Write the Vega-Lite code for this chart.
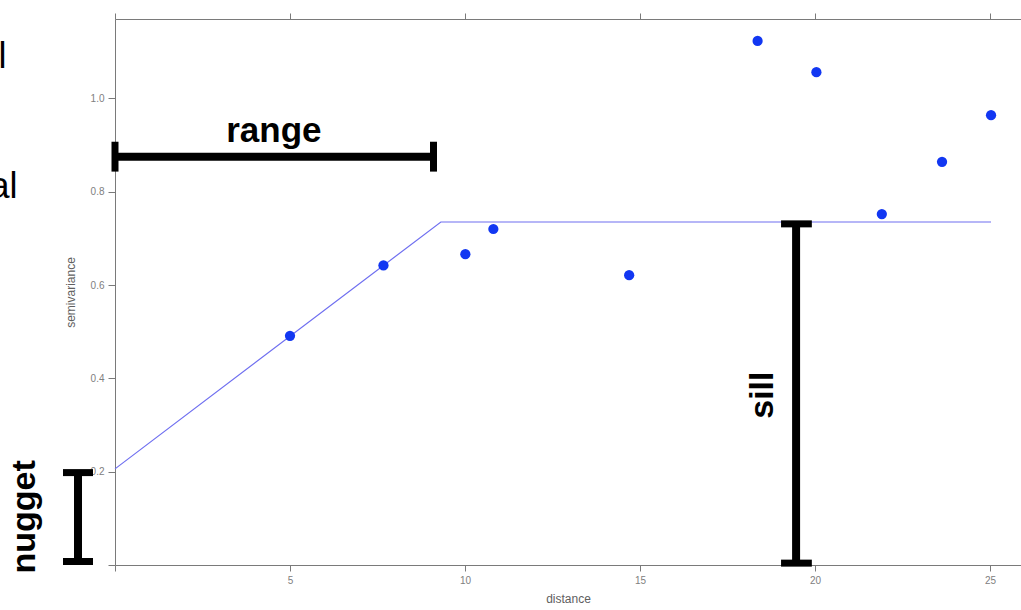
{
  "$schema": "https://vega.github.io/schema/vega-lite/v6.json",
  "autosize": {"type": "none"},
  "padding": {"left": 115, "top": 19, "right": 0, "bottom": 45},
  "width": 906,
  "height": 546,
  "background": "white",
  "config": {
    "view": {"stroke": null},
    "axis": {
      "grid": false,
      "domainColor": "#7a7a7a",
      "tickColor": "#7a7a7a",
      "labelColor": "#808080",
      "titleColor": "#606060",
      "labelFont": "Liberation Sans",
      "titleFont": "Liberation Sans",
      "labelFontSize": 10,
      "titleFontWeight": "normal"
    }
  },
  "datasets": {
    "points": [
      {"distance": 5.0, "gamma": 0.491},
      {"distance": 7.67, "gamma": 0.642},
      {"distance": 10.01, "gamma": 0.666},
      {"distance": 10.81, "gamma": 0.72},
      {"distance": 14.69, "gamma": 0.621},
      {"distance": 18.36, "gamma": 1.123},
      {"distance": 20.04, "gamma": 1.056},
      {"distance": 21.91, "gamma": 0.752},
      {"distance": 23.63, "gamma": 0.864},
      {"distance": 25.03, "gamma": 0.964}
    ],
    "model": [
      {"distance": 0, "gamma": 0.206},
      {"distance": 9.31, "gamma": 0.735},
      {"distance": 25.03, "gamma": 0.735}
    ],
    "bars": [
      {"name": "range", "x1": 0, "x2": 9.1, "y1": 0.875, "y2": 0.875},
      {"name": "sill", "x1": 19.46, "x2": 19.46, "y1": 0.731, "y2": 0.004},
      {"name": "nugget", "x1": -1.057, "x2": -1.057, "y1": 0.198, "y2": 0.0075}
    ],
    "caps": [
      {"name": "range L", "x1": 0, "x2": 0, "y1": 0.907, "y2": 0.843},
      {"name": "range R", "x1": 9.1, "x2": 9.1, "y1": 0.907, "y2": 0.843},
      {"name": "sill top", "x1": 19.03, "x2": 19.91, "y1": 0.731, "y2": 0.731},
      {"name": "sill bottom", "x1": 19.03, "x2": 19.91, "y1": 0.004, "y2": 0.004},
      {"name": "nugget top", "x1": -1.486, "x2": -0.629, "y1": 0.198, "y2": 0.198},
      {"name": "nugget bottom", "x1": -1.486, "x2": -0.629, "y1": 0.0075, "y2": 0.0075}
    ],
    "labelH": [
      {"label": "range", "x": 4.54, "y": 0.907}
    ],
    "labelV": [
      {"label": "sill", "x": 18.8, "y": 0.364},
      {"label": "nugget", "x": -2.29, "y": 0.103}
    ],
    "partial": [
      {"label": "l", "x": -3.1, "y": 1.065},
      {"label": "al", "x": -2.786, "y": 0.786}
    ]
  },
  "resolve": {"axis": {"x": "independent", "y": "independent"}},
  "layer": [
    {
      "data": {"name": "model"},
      "mark": {"type": "line", "color": "#6f6ff0", "strokeWidth": 1.2},
      "encoding": {
        "x": {
          "field": "distance", "type": "quantitative",
          "scale": {"domain": [0, 25.886], "nice": false, "zero": false},
          "axis": {
            "orient": "bottom", "title": "distance", "values": [0, 5, 10, 15, 20, 25],
            "labelExpr": "datum.value == 0 ? '' : datum.label",
            "tickSize": 6, "labelPadding": 4, "titleFontSize": 12, "titlePadding": 8
          }
        },
        "y": {
          "field": "gamma", "type": "quantitative",
          "scale": {"domain": [0, 1.17], "nice": false, "zero": false},
          "axis": {
            "orient": "left", "title": "semivariance", "values": [0, 0.2, 0.4, 0.6, 0.8, 1.0],
            "labelExpr": "datum.value == 0 ? '' : format(datum.value, '.1f')",
            "tickSize": 7, "labelPadding": 4, "titleFontSize": 12, "titlePadding": 13
          }
        }
      }
    },
    {
      "data": {"name": "points"},
      "mark": {"type": "circle", "size": 105, "color": "#1237f2", "opacity": 1},
      "encoding": {
        "x": {
          "field": "distance", "type": "quantitative",
          "axis": {"orient": "top", "title": null, "labels": false, "values": [0, 5, 10, 15, 20, 25], "tickSize": 6}
        },
        "y": {"field": "gamma", "type": "quantitative", "axis": null}
      }
    },
    {
      "data": {"name": "bars"},
      "mark": {"type": "rule", "color": "black", "strokeWidth": 8},
      "encoding": {
        "x": {"field": "x1", "type": "quantitative", "axis": null},
        "x2": {"field": "x2"},
        "y": {"field": "y1", "type": "quantitative", "axis": null},
        "y2": {"field": "y2"}
      }
    },
    {
      "data": {"name": "caps"},
      "mark": {"type": "rule", "color": "black", "strokeWidth": 7},
      "encoding": {
        "x": {"field": "x1", "type": "quantitative", "axis": null},
        "x2": {"field": "x2"},
        "y": {"field": "y1", "type": "quantitative", "axis": null},
        "y2": {"field": "y2"}
      }
    },
    {
      "data": {"name": "labelH"},
      "mark": {"type": "text", "font": "Liberation Sans", "fontWeight": "bold", "fontSize": 35, "align": "center", "baseline": "alphabetic", "color": "black"},
      "encoding": {
        "x": {"field": "x", "type": "quantitative", "axis": null},
        "y": {"field": "y", "type": "quantitative", "axis": null},
        "text": {"field": "label"}
      }
    },
    {
      "data": {"name": "labelV"},
      "mark": {"type": "text", "font": "Liberation Sans", "fontWeight": "bold", "fontSize": 34, "align": "center", "baseline": "alphabetic", "angle": 270, "color": "black"},
      "encoding": {
        "x": {"field": "x", "type": "quantitative", "axis": null},
        "y": {"field": "y", "type": "quantitative", "axis": null},
        "text": {"field": "label"}
      }
    },
    {
      "data": {"name": "partial"},
      "mark": {"type": "text", "font": "Liberation Sans", "fontSize": 36, "align": "right", "baseline": "alphabetic", "color": "black"},
      "encoding": {
        "x": {"field": "x", "type": "quantitative", "axis": null},
        "y": {"field": "y", "type": "quantitative", "axis": null},
        "text": {"field": "label"}
      }
    }
  ]
}
